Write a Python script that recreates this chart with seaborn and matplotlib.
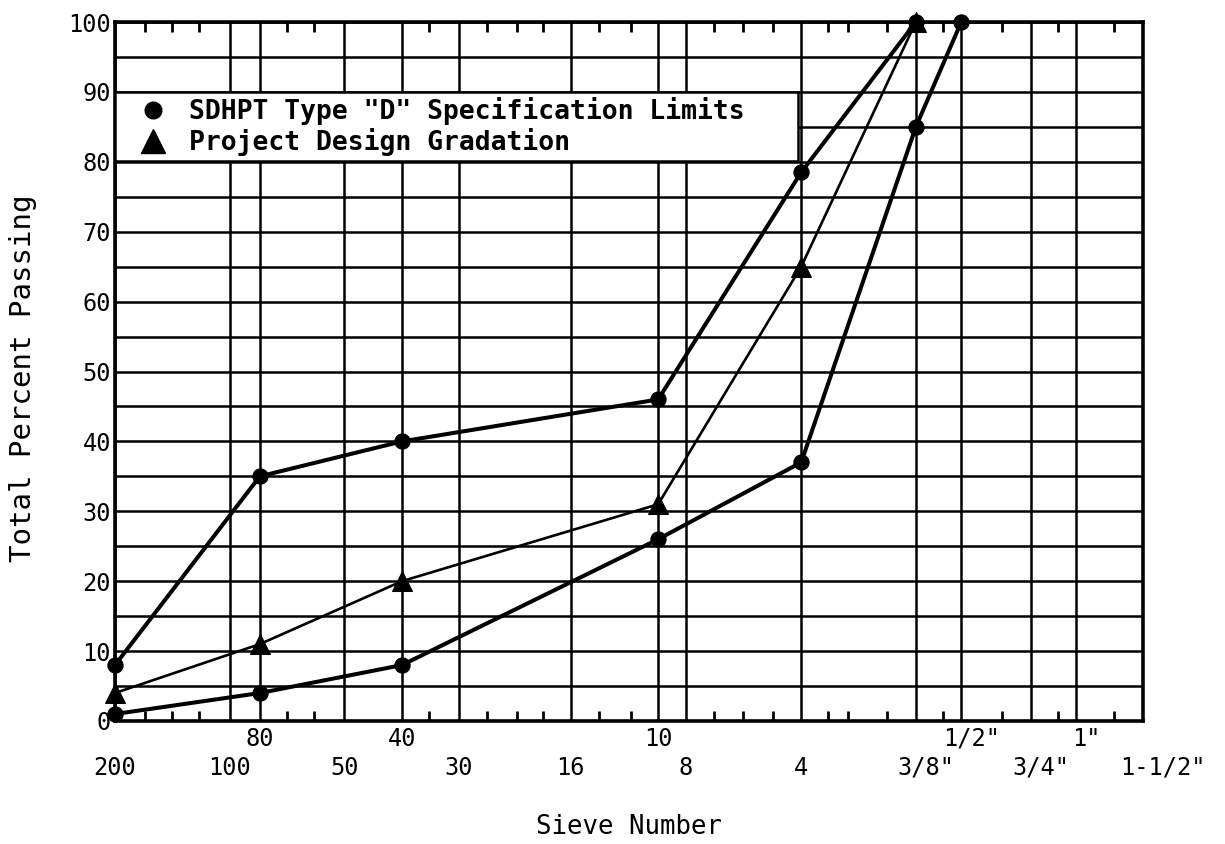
import numpy as np
import pandas as pd
import matplotlib
matplotlib.use("Agg")
import matplotlib.pyplot as plt
import matplotlib.transforms as mtransforms
from matplotlib.lines import Line2D
from matplotlib.ticker import NullFormatter, FixedLocator, NullLocator
import seaborn as sns

# ---- data -------------------------------------------------------------
# sieve openings (mm) used for the x positions and their labels
sieve_mm = [0.075, 0.15, 0.18, 0.30, 0.425, 0.60, 1.18, 2.00, 2.36, 4.75,
            9.5, 12.5, 19.0, 25.0, 37.5]
sieve_labels = ["200", "100", "80", "50", "40", "30", "16", "10", "8", "4",
                '3/8"', '1/2"', '3/4"', '1"', '1-1/2"']
sieve_row = [1, 1, 0, 1, 0, 1, 1, 0, 1, 1, 1, 0, 1, 0, 1]   # 0 upper row, 1 lower row
minor_mm = [0.09, 0.106, 0.125, 0.212, 0.25, 0.50, 0.71, 0.85, 1.0, 1.4,
            1.7, 2.8, 3.35, 4.0, 5.6, 6.3, 8.0, 11.2, 16.0, 22.4, 31.5]

spec_upper_sizes = [0.075, 0.18, 0.425, 2.0, 4.75, 9.5]
spec_upper = [8, 35, 40, 46, 78.5, 100]
spec_lower_sizes = [0.075, 0.18, 0.425, 2.0, 4.75, 9.5, 12.5]
spec_lower = [1, 4, 8, 26, 37, 85, 100]
design_sizes = [0.075, 0.18, 0.425, 2.0, 4.75, 9.5]
design_pct = [4, 11, 20, 31, 65, 100]

legend_labels = ['SDHPT Type "D" Specification Limits', 'Project Design Gradation']
y_ticks = list(range(0, 101, 5))

# ---- style ------------------------------------------------------------
sns.set_theme(style="white")
plt.rcParams["font.family"] = ["DejaVu Sans Mono", "DejaVu Sans"]
for k in ["text.color", "axes.labelcolor", "xtick.color", "ytick.color", "axes.edgecolor"]:
    plt.rcParams[k] = "black"

fig = plt.figure(figsize=(12.25, 8.44), dpi=100)
ax = fig.add_axes([115 / 1225, 1 - 721 / 844, (1143 - 115) / 1225, (721 - 22) / 844])
ax.set_xscale("log")

common = dict(ax=ax, color="black", estimator=None, sort=False, clip_on=False,
              markeredgecolor="black")
sns.lineplot(x=design_sizes, y=design_pct, lw=1.9, marker="^", ms=15, zorder=3, **common)
sns.lineplot(x=spec_upper_sizes, y=spec_upper, lw=2.9, marker="o", ms=11, zorder=4, **common)
sns.lineplot(x=spec_lower_sizes, y=spec_lower, lw=2.9, marker="o", ms=11, zorder=4, **common)

ax.set_xlim(sieve_mm[0], sieve_mm[-1])
ax.set_ylim(0, 100)


def shift_inch_labels(labels):
    for t in labels:
        txt = t.get_text()
        if '"' in txt:
            dx = 20 if "1-1/2" in txt else 10
            t.set_transform(t.get_transform() +
                            mtransforms.ScaledTranslation(dx / 100, 0, fig.dpi_scale_trans))


# x ticks: lower row on the main axis, upper row on a secondary axis
ax.xaxis.set_major_locator(FixedLocator(sieve_mm))
ax.set_xticklabels([lab if r == 1 else "" for lab, r in zip(sieve_labels, sieve_row)])
ax.xaxis.set_minor_locator(FixedLocator(minor_mm))
ax.xaxis.set_minor_formatter(NullFormatter())
ax.tick_params(axis="x", which="major", length=0, pad=25, labelsize=17)
ax.tick_params(axis="x", which="minor", direction="in", length=7, width=2,
               top=True, bottom=True)
shift_inch_labels(ax.get_xticklabels())

upper_pos = [m for m, r in zip(sieve_mm, sieve_row) if r == 0]
upper_lab = [lab for lab, r in zip(sieve_labels, sieve_row) if r == 0]
sec = ax.secondary_xaxis("bottom")
sec.set_xticks(upper_pos)
sec.set_xticklabels(upper_lab)
sec.xaxis.set_minor_locator(NullLocator())
sec.tick_params(axis="x", which="major", length=0, pad=4, labelsize=17)
sec.spines["bottom"].set_visible(False)
shift_inch_labels(sec.get_xticklabels())

ax.set_yticks(y_ticks)
ax.set_yticklabels([str(v) if v % 10 == 0 else "" for v in y_ticks])
ax.tick_params(axis="y", which="major", length=0, pad=3, labelsize=17)

ax.grid(True, which="major", axis="both", color="black", lw=1.8)
ax.set_axisbelow(True)
for s in ax.spines.values():
    s.set_linewidth(2.6)
    s.set_color("black")

ax.set_xlabel("Sieve Number", fontsize=18.5)
ax.xaxis.set_label_coords(0.5, -0.133)
ax.set_ylabel("Total Percent Passing", fontsize=21)
ax.yaxis.set_label_coords(-0.076, 0.49)

handles = [Line2D([], [], marker="o", color="black", ls="none", ms=12),
           Line2D([], [], marker="^", color="black", ls="none", ms=17)]
leg = ax.legend(handles, legend_labels, loc="upper left",
                bbox_to_anchor=(0, 0.8, 0.664, 0.1), mode="expand",
                borderaxespad=0, borderpad=0.2, labelspacing=0.1,
                handlelength=2.5, handletextpad=0.1, fancybox=False,
                framealpha=1, edgecolor="black",
                prop=dict(family="DejaVu Sans Mono", weight="bold", size=19))
leg.get_frame().set_linewidth(1.8)
leg.set_zorder(6)

fig.savefig("out.png", dpi=100, facecolor="white")
